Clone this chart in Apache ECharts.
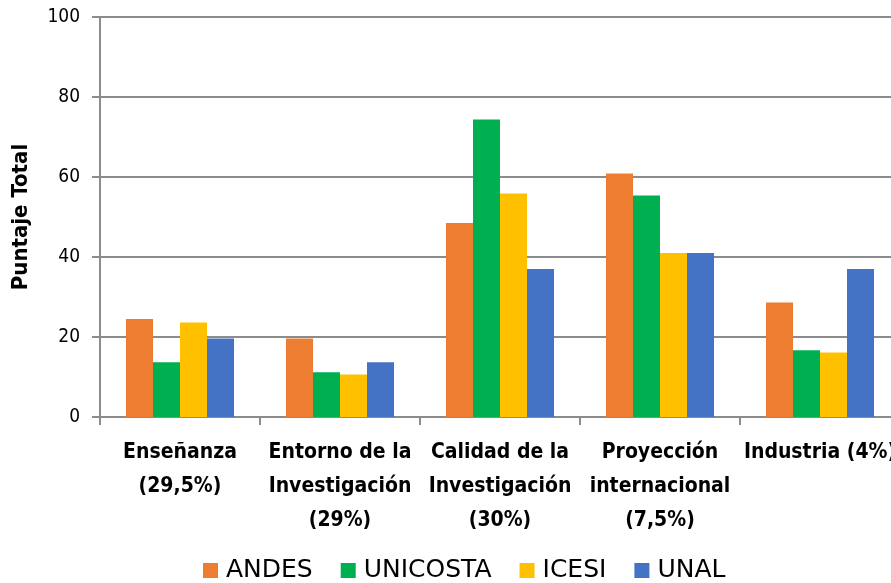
<!DOCTYPE html>
<html>
	<head>
		<meta charset="utf-8" />
		<title>Puntaje Total</title>
		<script src="https://cdn.jsdelivr.net/npm/echarts@6/dist/echarts.min.js"></script>
		<style>
			html, body { margin: 0; padding: 0; background: #fff; }
			#chart { width: 891px; height: 583px; }
		</style>
	</head>
	<body>
		<div id="chart"></div>
		<script>
			// categorias y valores
			var categorias = ['Enseñanza\n(29,5%)', 'Entorno de la\nInvestigación\n(29%)', 'Calidad de la\nInvestigación\n(30%)', 'Proyección\ninternacional\n(7,5%)', 'Industria (4%)'];
			var andes = [24.5, 19.6, 48.5, 60.9, 28.6];
			var unicosta = [13.7, 11.2, 74.4, 55.4, 16.7];
			var icesi = [23.6, 10.6, 55.9, 41, 16.1];
			var unal = [19.6, 13.7, 37, 41, 37];

			var fuente = "'DejaVu Sans Condensed', 'DejaVu Sans', sans-serif";
			var gris = '#8c8c8c';

			var chart = echarts.init(document.getElementById('chart'));

			function serie(nombre, datos, color) {
				return {
					name: nombre,
					type: 'bar',
					data: datos,
					barGap: '0%',
					barCategoryGap: '32.5%',
					itemStyle: { color: color }
				};
			}

			var option = {
				animation: false,
				textStyle: { fontFamily: fuente },
				grid: {
					left: 100,
					top: 17,
					width: 800,
					height: 400,
					outerBoundsMode: 'none'
				},
				legend: {
					top: 553,
					left: 198,
					itemWidth: 15,
					itemHeight: 15,
					itemGap: 28,
					icon: 'rect',
					textStyle: { fontSize: 25, color: '#000', fontFamily: "'DejaVu Sans', sans-serif", padding: [0, 0, 0, 3] },
					data: ['ANDES', 'UNICOSTA', 'ICESI', 'UNAL']
				},
				xAxis: {
					type: 'category',
					data: categorias,
					axisLine: { lineStyle: { color: gris, width: 2 } },
					axisTick: { show: true, length: 8, lineStyle: { color: gris, width: 2 } },
					axisLabel: {
						interval: 0,
						color: '#000',
						fontSize: 21,
						fontWeight: 'bold',
						lineHeight: 34,
						margin: 19,
						fontFamily: fuente
					}
				},
				yAxis: {
					type: 'value',
					min: 0,
					max: 100,
					interval: 20,
					name: 'Puntaje Total',
					nameLocation: 'middle',
					nameRotate: 90,
					nameGap: 68,
					nameTextStyle: { fontSize: 22, fontWeight: 'bold', color: '#000', fontFamily: fuente },
					axisLine: { show: true, lineStyle: { color: gris, width: 2 } },
					axisTick: { show: true, length: 8, lineStyle: { color: gris, width: 2 } },
					splitLine: { lineStyle: { color: gris, width: 2 } },
					axisLabel: { color: '#000', fontSize: 19, margin: 20, fontFamily: fuente }
				},
				series: [
					serie('ANDES', andes, '#ED7D31'),
					serie('UNICOSTA', unicosta, '#00B050'),
					serie('ICESI', icesi, '#FFC000'),
					serie('UNAL', unal, '#4472C4')
				]
			};

			chart.setOption(option);
		</script>
	</body>
</html>
